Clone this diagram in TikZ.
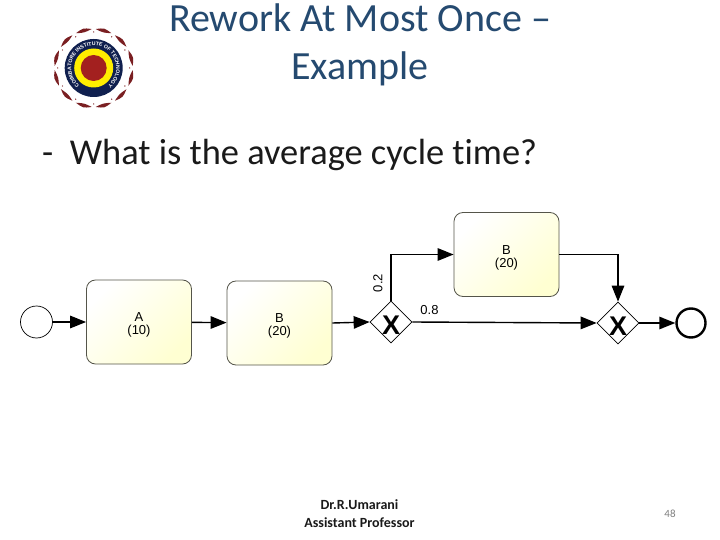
\documentclass[tikz,border=0pt]{standalone}
\usepackage{fontspec}
\setmainfont[Ligatures=NoCommon]{Carlito}
\newfontfamily\diagfont{Liberation Sans}
\usetikzlibrary{arrows.meta,shapes.geometric,decorations.text}
\definecolor{titleblue}{HTML}{254A70}
\definecolor{bodyink}{HTML}{1A1A1A}
\definecolor{taskfill}{HTML}{FFFFD2}
\definecolor{taskedge}{HTML}{55554A}
\definecolor{logored}{HTML}{7A1F22}
\definecolor{logonavy}{HTML}{10204F}
\definecolor{logoyellow}{HTML}{FFEE00}
\definecolor{logocore}{HTML}{A3201F}
\newcommand{\lblpad}{\rule{0pt}{15.5pt}}
\tikzset{
  flow/.style={draw=black,line width=1.4pt,-{Triangle[length=16pt,width=12.5pt]}},
  taskbox/.style={draw=taskedge,line width=0.8pt,rounded corners=9pt,minimum width=105pt,minimum height=84pt,inner sep=0pt,
    shading=axis,top color=white,bottom color=taskfill,shading angle=45,align=center,
    font=\diagfont\fontsize{13}{13}\selectfont},
  gatebox/.style={diamond,draw=black,line width=0.7pt,fill=white,minimum width=42pt,minimum height=42pt,inner sep=-3pt,
    text height=25pt,text depth=0pt,
    font=\diagfont\bfseries\fontsize{27}{27}\selectfont},
  startev/.style={circle,draw=black,line width=0.7pt,fill=white,minimum size=32pt,inner sep=0pt},
  endev/.style={circle,draw=black,line width=2.4pt,fill=white,minimum size=29pt,inner sep=0pt},
  problabel/.style={font=\diagfont\fontsize{13}{13}\selectfont,inner sep=0pt},
  titletext/.style={text=titleblue,font=\fontsize{40}{48}\selectfont,align=center,inner sep=0pt},
  footer/.style={font=\bfseries\fontsize{14}{18}\selectfont,text=bodyink,align=center,inner sep=0pt}
}
\begin{document}
\begin{tikzpicture}[x=1pt,y=-1pt]
\useasboundingbox (0,0) rectangle (720,540);
\fill[white] (0,0) rectangle (720,540);
% title and question
\node[titletext] (title) at (360,45) {Rework At Most Once –\\Example};
\node[anchor=base west,inner sep=0pt,text=bodyink,font=\fontsize{36.4}{40}\selectfont] (question) at (42,165) {- \ What is the average cycle time?};
% logo
\begin{scope}[shift={(93.7,68)},y=1pt]
  \foreach \a in {0,30,...,330}{
    \fill[logored] (\a+3:39) .. controls (\a+15:41.5) .. (\a+27:39)
       .. controls (\a+15:36.5) .. cycle;
    \fill[logored] (\a:36) circle (0.7pt);
  }
  \fill[logonavy] (0,0) circle (29);
  \fill[logoyellow] (0,0) circle (19.5);
  \fill[logocore] (0,0) circle (13);
  \path[decorate,decoration={text along path,text align=center,
     text={|\diagfont\bfseries\fontsize{5.2}{6}\selectfont\color{white}|COIMBATORE INSTITUTE OF TECHNOLOGY}}]
     (229:22.5) arc[start angle=229,end angle=-49,radius=22.5];
\end{scope}
% diagram
\node[startev] (start) at (36.5,322) {};
\node[taskbox] (a) at (139,322) {\lblpad A\\(10)};
\node[taskbox] (b) at (279.5,323) {\lblpad B\\(20)};
\node[gatebox] (g1) at (391,322) {X};
\node[taskbox] (b2) at (506.5,254.5) {\lblpad B\\(20)};
\node[gatebox] (g2) at (618,323) {X};
\node[endev] (end) at (691,323) {};
\draw[flow] (start) -- (a);
\draw[flow] (a) -- (b);
\draw[flow] (b.east) -- (g1.west);
\draw[flow] (g1.north) |- (b2.west);
\draw[flow] (b2.east) -| (g2.north);
\draw[flow] (g1.east) -- (g2.west);
\draw[flow] (g2.east) -- (end.west);
\node[problabel,rotate=90] (p2) at (378,283) {0.2};
\node[problabel] (p8) at (429.5,310) {0.8};
% footer
\node[footer] (prof) at (359.5,514) {Dr.R.Umarani\\Assistant Professor};
\node[inner sep=0pt,text=gray,font=\fontsize{11}{13}\selectfont] (page) at (670,514) {48};
\end{tikzpicture}
\end{document}
